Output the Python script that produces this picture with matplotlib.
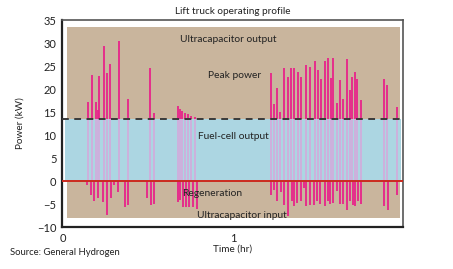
import numpy as np
import matplotlib.pyplot as plt

# fuel-cell limit (kW)
fc_limit = 13.5

# peak power events: time (hr), power (kW)
peak_t = [0.149, 0.169, 0.192, 0.204, 0.214, 0.239, 0.261, 0.276, 0.328, 0.382,
          0.514, 0.537, 0.675, 0.688, 0.702, 0.718, 0.734, 0.753, 0.776,
          1.222, 1.241, 1.257, 1.278, 1.298, 1.324, 1.343, 1.359, 1.381, 1.400,
          1.431, 1.451, 1.481, 1.500, 1.518, 1.543, 1.557, 1.576, 1.590, 1.610,
          1.629, 1.647, 1.669, 1.688, 1.700, 1.718, 1.731, 1.751, 1.888, 1.906,
          1.966]
peak_kw = [17.3, 23.1, 17.3, 15.6, 23.0, 29.6, 23.7, 25.6, 30.7, 17.9,
           24.6, 14.9, 16.4, 15.7, 15.3, 14.9, 14.7, 14.3, 14.0,
           23.7, 16.8, 20.3, 15.1, 24.6, 22.8, 24.6, 24.6, 23.8, 22.8,
           25.4, 25.0, 26.2, 24.2, 22.2, 26.2, 26.9, 22.6, 26.9, 17.0,
           22.0, 17.9, 26.7, 19.9, 22.8, 23.8, 22.3, 17.7, 22.4, 21.0,
           16.1]

# regeneration events: time (hr), power (kW)
regen_t = [0.143, 0.163, 0.184, 0.208, 0.234, 0.257, 0.281, 0.302, 0.325, 0.366,
           0.382, 0.496, 0.516, 0.535, 0.675, 0.688, 0.706, 0.724, 0.741, 0.763,
           0.786, 1.224, 1.241, 1.257, 1.281, 1.300, 1.325, 1.345, 1.359, 1.378,
           1.398, 1.416, 1.431, 1.453, 1.478, 1.494, 1.512, 1.541, 1.557, 1.571,
           1.590, 1.610, 1.629, 1.649, 1.669, 1.688, 1.704, 1.718, 1.734, 1.751,
           1.888, 1.908, 1.966]
regen_kw = [-0.8, -2.9, -4.4, -3.7, -4.6, -7.4, -3.6, -0.8, -2.3, -5.7,
            -5.2, -3.6, -5.1, -5.0, -4.6, -4.2, -5.7, -5.7, -5.7, -5.7,
            -6.0, -2.9, -2.0, -4.4, -2.4, -5.2, -7.6, -4.4, -5.5, -4.7,
            -4.4, -1.5, -5.5, -5.1, -5.1, -4.4, -5.0, -5.5, -4.4, -5.0,
            -4.7, -2.2, -5.0, -5.0, -6.2, -4.4, -5.2, -5.5, -4.4, -5.0,
            -5.5, -6.2, -2.9]

plt.rcParams['font.family'] = ['Lato', 'DejaVu Sans']

fig = plt.figure(figsize=(4.53, 2.69), dpi=100)
ax = fig.add_axes([0.137, 0.156, 0.753, 0.770])

tan = '#c9b59d'
blue = '#acd6e2'
pink = '#e8238a'
lav = '#cdb0dc'

# background zones
ax.fill_between([0.024, 1.98], -8.0, 33.6, color=tan, lw=0, zorder=0)
ax.fill_between([0.01, 1.985], 0, fc_limit, color=blue, lw=0, zorder=1)

# fuel-cell part of each spike
ax.vlines(peak_t, 0, fc_limit, color=lav, lw=1.4, zorder=2)
# ultracapacitor output above fuel-cell limit
ax.vlines(peak_t, fc_limit, peak_kw, color=pink, lw=1.3, zorder=3)
# regeneration
ax.vlines(regen_t, 0, regen_kw, color=pink, lw=1.3, zorder=3)

ax.axhline(fc_limit, color='#3a3a3a', lw=1.4, ls=(0, (3.5, 2.8)), zorder=4)
ax.axhline(0, color='#cc2a1e', lw=1.4, zorder=4)

fs = 7.4
ax.text(0.97, 30.9, 'Ultracapacitor output', ha='center', va='center', fontsize=fs, color='#222', zorder=5)
ax.text(1.01, 23.0, 'Peak power', ha='center', va='center', fontsize=fs, color='#222', zorder=5)
ax.text(1.0, 9.85, 'Fuel-cell output', ha='center', va='center', fontsize=fs, color='#222', zorder=5)
ax.text(0.88, -2.7, 'Regeneration', ha='center', va='center', fontsize=fs, color='#222', zorder=5)
ax.text(1.05, -7.5, 'Ultracapacitor input', ha='center', va='center', fontsize=fs, color='#222', zorder=5)

ax.set_xlim(-0.005, 2.0)
ax.set_ylim(-9.6, 35.2)
ax.set_xticks([0, 1])
ax.set_yticks(np.arange(-10, 36, 5))
ax.tick_params(length=0, labelsize=8, pad=4, colors='#222')

for s in ['top', 'right']:
    ax.spines[s].set_color('#555')
    ax.spines[s].set_linewidth(1.2)
for s in ['left', 'bottom']:
    ax.spines[s].set_color('#222')
    ax.spines[s].set_linewidth(1.6)

ax.set_title('Lift truck operating profile', fontsize=7.2, pad=4, color='#222')
ax.set_xlabel('Time (hr)', fontsize=7.2, labelpad=1, color='#222')
ax.set_ylabel('Power (kW)', fontsize=7.2, labelpad=9, color='#222')
fig.text(0.022, 0.062, 'Source: General Hydrogen', fontsize=6.8, color='#222', va='center')

fig.savefig('out.png', dpi=100)
